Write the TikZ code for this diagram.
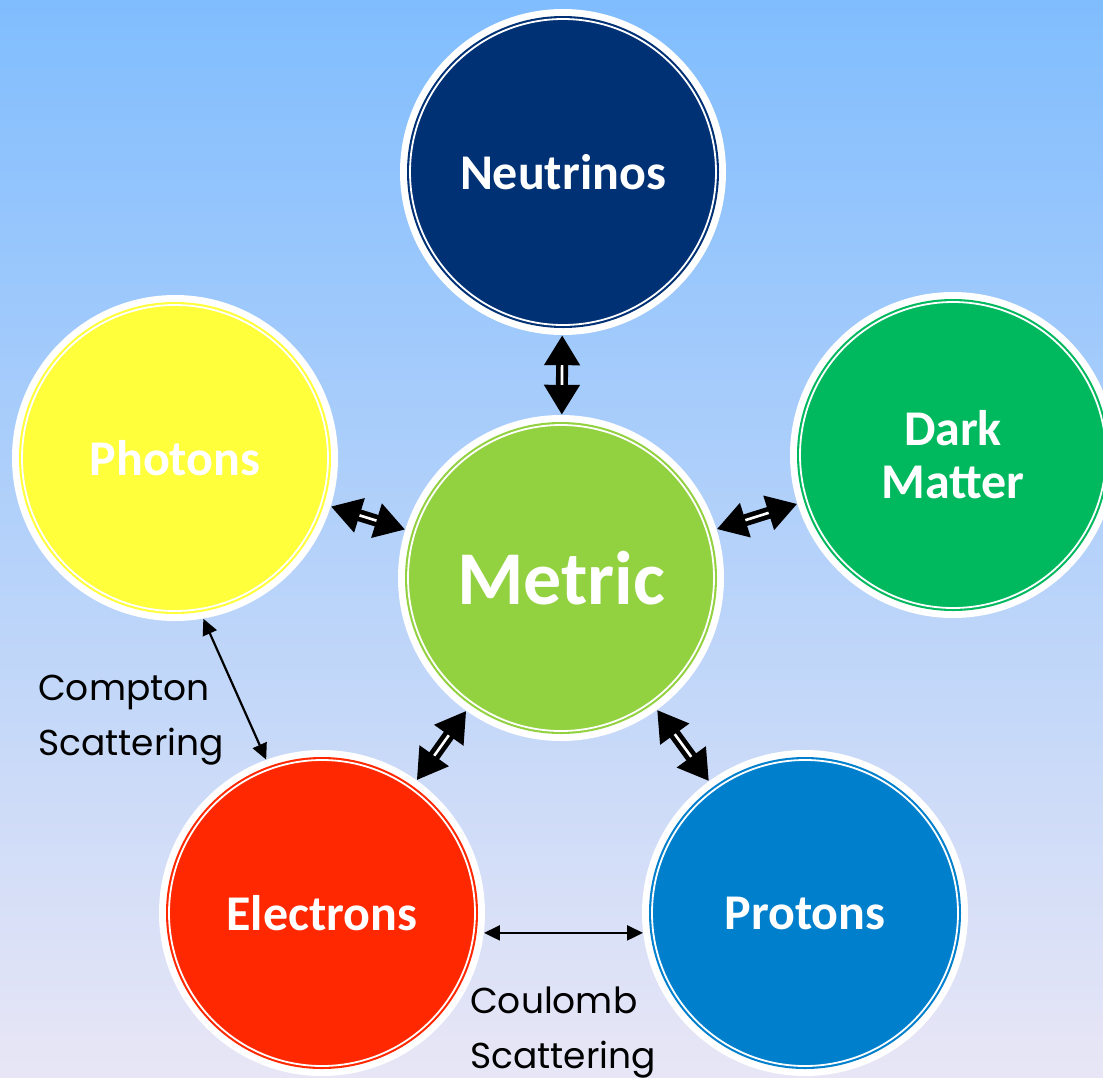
\documentclass[tikz,border=0pt]{standalone}
\usepackage{fontspec}
\setmainfont{Carlito}
\newfontfamily\labelfont{Poppins}
\usetikzlibrary{arrows.meta}
\definecolor{bgtop}{HTML}{80BDFE}
\definecolor{bgbot}{HTML}{E8E6F6}
\definecolor{cneu}{HTML}{003175}
\definecolor{cpho}{HTML}{FFFF3C}
\definecolor{cdm}{HTML}{00B95F}
\definecolor{cmet}{HTML}{92D13F}
\definecolor{cele}{HTML}{FF2800}
\definecolor{cpro}{HTML}{0080CC}
\tikzset{
  ball/.style={circle, fill=white, inner sep=0pt, minimum size=326pt,
    text=white, align=center, font=\bfseries\fontsize{50}{53}\selectfont,
    path picture={
      \fill[#1] (path picture bounding box.center) circle (156pt);
      \draw[white, line width=1.8pt] (path picture bounding box.center) circle (153pt);
    }},
  bigarr/.style={draw=black, line width=12pt,
    {Triangle[length=30pt,width=34pt]}-{Triangle[length=30pt,width=34pt]}},
  shaftgap/.style={draw=white, line width=2.6pt, shorten <=30pt, shorten >=30pt},
  thinarr/.style={draw=black, line width=2.2pt,
    {Triangle[length=16pt,width=15pt]}-{Triangle[length=16pt,width=15pt]}},
  lbl/.style={font=\labelfont\fontsize{36}{55}\selectfont, align=left, inner sep=0pt, text=black}
}
\begin{document}
\begin{tikzpicture}[x=1pt,y=-1pt]
\useasboundingbox (0,0) rectangle (1103,1077);
\shade[top color=bgtop, bottom color=bgbot] (0,0) rectangle (1103,1077);

\node[ball=cneu] (neutrinos) at (563,172) {Neutrinos};
\node[ball=cpho] (photons) at (175,458) {Photons};
\node[ball=cdm] (darkmatter) at (953,455) {Dark\\Matter};
\node[ball=cmet, font=\bfseries\fontsize{76}{80}\selectfont] (metric) at (561,578) {Metric};
\node[ball=cele] (electrons) at (322,913) {Electrons};
\node[ball=cpro] (protons) at (805,913) {Protons};

\foreach \t in {neutrinos,photons,darkmatter,electrons,protons}{
  \draw[bigarr] (metric) -- (\t);
  \draw[shaftgap] (metric) -- (\t);
}

\draw[thinarr] (photons.-80) -- (electrons.110);
\draw[thinarr] (electrons.-7) -- (protons.187);

\node[lbl, anchor=base west] (compton) at (38,755) {Compton\\Scattering};
\node[lbl, anchor=base west] (coulomb) at (470,1068) {Coulomb\\Scattering};
\end{tikzpicture}
\end{document}
